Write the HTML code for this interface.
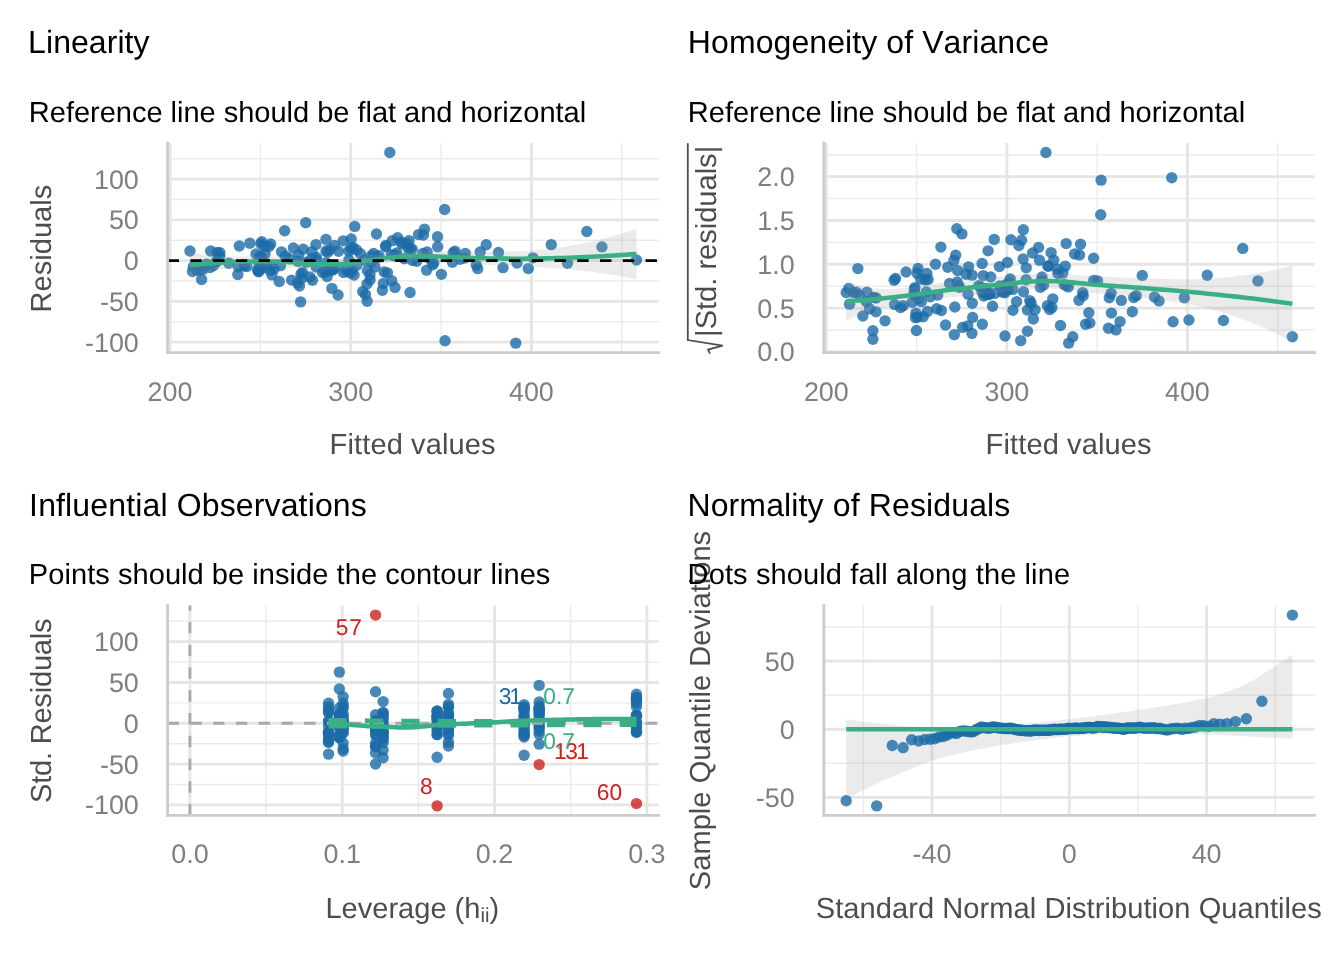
<!DOCTYPE html>
<html lang="en"><head><meta charset="utf-8"><title>Model check</title>
<style>html,body{margin:0;padding:0;background:#fff}svg{display:block;will-change:transform}</style></head>
<body>
<svg width="1344" height="960" viewBox="0 0 1344 960" font-family="'Liberation Sans', Arial, Helvetica, sans-serif" style="font-kerning:none" text-rendering="geometricPrecision">
<rect width="1344" height="960" fill="#ffffff"/>
<g fill="none"><path d="M167.60 321.78H658.80" stroke="#ebebeb" stroke-width="1.42"/><path d="M167.60 281.01H658.80" stroke="#ebebeb" stroke-width="1.42"/><path d="M167.60 240.23H658.80" stroke="#ebebeb" stroke-width="1.42"/><path d="M167.60 199.46H658.80" stroke="#ebebeb" stroke-width="1.42"/><path d="M167.60 158.68H658.80" stroke="#ebebeb" stroke-width="1.42"/><path d="M260.38 143.00V352.66" stroke="#ebebeb" stroke-width="1.42"/><path d="M441.06 143.00V352.66" stroke="#ebebeb" stroke-width="1.42"/><path d="M621.74 143.00V352.66" stroke="#ebebeb" stroke-width="1.42"/><path d="M167.60 342.17H658.80" stroke="#e5e5e5" stroke-width="2.84"/><path d="M167.60 301.39H658.80" stroke="#e5e5e5" stroke-width="2.84"/><path d="M167.60 260.62H658.80" stroke="#e5e5e5" stroke-width="2.84"/><path d="M167.60 219.85H658.80" stroke="#e5e5e5" stroke-width="2.84"/><path d="M167.60 179.07H658.80" stroke="#e5e5e5" stroke-width="2.84"/><path d="M170.04 143.00V352.66" stroke="#e5e5e5" stroke-width="2.84"/><path d="M350.72 143.00V352.66" stroke="#e5e5e5" stroke-width="2.84"/><path d="M531.40 143.00V352.66" stroke="#e5e5e5" stroke-width="2.84"/></g>
<g fill="#1b6ca8" fill-opacity="0.8"><circle cx="267.00" cy="263.97" r="5.69"/><circle cx="302.53" cy="272.55" r="5.69"/><circle cx="338.07" cy="295.03" r="5.69"/><circle cx="373.60" cy="253.46" r="5.69"/><circle cx="409.13" cy="240.62" r="5.69"/><circle cx="444.66" cy="209.49" r="5.69"/><circle cx="480.20" cy="252.02" r="5.69"/><circle cx="515.73" cy="343.13" r="5.69"/><circle cx="551.26" cy="244.64" r="5.69"/><circle cx="586.79" cy="231.51" r="5.69"/><circle cx="189.93" cy="251.06" r="5.69"/><circle cx="193.27" cy="266.81" r="5.69"/><circle cx="196.60" cy="270.18" r="5.69"/><circle cx="199.94" cy="270.28" r="5.69"/><circle cx="203.28" cy="269.33" r="5.69"/><circle cx="206.62" cy="264.11" r="5.69"/><circle cx="209.96" cy="267.52" r="5.69"/><circle cx="213.29" cy="265.69" r="5.69"/><circle cx="216.63" cy="261.84" r="5.69"/><circle cx="219.97" cy="252.73" r="5.69"/><circle cx="192.53" cy="271.54" r="5.69"/><circle cx="201.59" cy="279.48" r="5.69"/><circle cx="210.66" cy="250.97" r="5.69"/><circle cx="219.73" cy="256.26" r="5.69"/><circle cx="228.79" cy="263.24" r="5.69"/><circle cx="237.86" cy="274.55" r="5.69"/><circle cx="246.93" cy="266.44" r="5.69"/><circle cx="256.00" cy="253.95" r="5.69"/><circle cx="265.06" cy="253.75" r="5.69"/><circle cx="274.13" cy="268.85" r="5.69"/><circle cx="305.72" cy="222.74" r="5.69"/><circle cx="315.94" cy="244.59" r="5.69"/><circle cx="326.15" cy="262.70" r="5.69"/><circle cx="336.36" cy="266.26" r="5.69"/><circle cx="346.58" cy="270.33" r="5.69"/><circle cx="356.79" cy="265.33" r="5.69"/><circle cx="367.00" cy="284.08" r="5.69"/><circle cx="377.22" cy="257.69" r="5.69"/><circle cx="387.43" cy="272.83" r="5.69"/><circle cx="397.65" cy="237.72" r="5.69"/><circle cx="303.14" cy="249.25" r="5.69"/><circle cx="316.50" cy="257.41" r="5.69"/><circle cx="329.87" cy="249.72" r="5.69"/><circle cx="343.23" cy="240.84" r="5.69"/><circle cx="356.60" cy="250.00" r="5.69"/><circle cx="369.97" cy="274.76" r="5.69"/><circle cx="383.33" cy="283.43" r="5.69"/><circle cx="396.70" cy="252.98" r="5.69"/><circle cx="410.06" cy="292.50" r="5.69"/><circle cx="423.43" cy="235.06" r="5.69"/><circle cx="279.25" cy="281.48" r="5.69"/><circle cx="297.67" cy="283.31" r="5.69"/><circle cx="316.09" cy="267.04" r="5.69"/><circle cx="334.51" cy="245.34" r="5.69"/><circle cx="352.93" cy="247.38" r="5.69"/><circle cx="371.35" cy="261.78" r="5.69"/><circle cx="389.77" cy="152.53" r="5.69"/><circle cx="408.19" cy="248.37" r="5.69"/><circle cx="426.61" cy="270.17" r="5.69"/><circle cx="445.03" cy="340.81" r="5.69"/><circle cx="293.35" cy="247.90" r="5.69"/><circle cx="311.85" cy="251.60" r="5.69"/><circle cx="330.36" cy="270.38" r="5.69"/><circle cx="348.87" cy="259.94" r="5.69"/><circle cx="367.38" cy="270.45" r="5.69"/><circle cx="385.89" cy="245.37" r="5.69"/><circle cx="404.39" cy="258.73" r="5.69"/><circle cx="422.90" cy="253.37" r="5.69"/><circle cx="441.41" cy="274.35" r="5.69"/><circle cx="459.92" cy="259.31" r="5.69"/><circle cx="249.85" cy="243.25" r="5.69"/><circle cx="270.70" cy="243.91" r="5.69"/><circle cx="291.56" cy="280.10" r="5.69"/><circle cx="312.41" cy="280.29" r="5.69"/><circle cx="333.27" cy="269.85" r="5.69"/><circle cx="354.12" cy="275.05" r="5.69"/><circle cx="374.97" cy="267.06" r="5.69"/><circle cx="395.83" cy="255.27" r="5.69"/><circle cx="416.68" cy="261.24" r="5.69"/><circle cx="437.53" cy="236.77" r="5.69"/><circle cx="262.32" cy="268.34" r="5.69"/><circle cx="261.80" cy="241.73" r="5.69"/><circle cx="261.29" cy="257.37" r="5.69"/><circle cx="260.77" cy="243.83" r="5.69"/><circle cx="260.26" cy="259.38" r="5.69"/><circle cx="259.74" cy="256.55" r="5.69"/><circle cx="259.23" cy="263.81" r="5.69"/><circle cx="258.71" cy="271.85" r="5.69"/><circle cx="258.20" cy="271.25" r="5.69"/><circle cx="257.68" cy="269.80" r="5.69"/><circle cx="325.96" cy="239.36" r="5.69"/><circle cx="360.46" cy="253.76" r="5.69"/><circle cx="394.96" cy="287.43" r="5.69"/><circle cx="429.46" cy="258.55" r="5.69"/><circle cx="463.96" cy="258.13" r="5.69"/><circle cx="498.47" cy="252.41" r="5.69"/><circle cx="532.97" cy="257.85" r="5.69"/><circle cx="567.47" cy="263.29" r="5.69"/><circle cx="601.97" cy="246.92" r="5.69"/><circle cx="636.47" cy="260.00" r="5.69"/><circle cx="217.37" cy="252.54" r="5.69"/><circle cx="238.40" cy="266.75" r="5.69"/><circle cx="259.43" cy="269.22" r="5.69"/><circle cx="280.47" cy="265.67" r="5.69"/><circle cx="301.50" cy="278.60" r="5.69"/><circle cx="322.53" cy="272.55" r="5.69"/><circle cx="343.56" cy="272.42" r="5.69"/><circle cx="364.60" cy="260.28" r="5.69"/><circle cx="385.63" cy="246.79" r="5.69"/><circle cx="406.66" cy="243.75" r="5.69"/><circle cx="239.30" cy="245.97" r="5.69"/><circle cx="270.17" cy="270.38" r="5.69"/><circle cx="301.03" cy="273.91" r="5.69"/><circle cx="331.89" cy="288.39" r="5.69"/><circle cx="362.75" cy="291.40" r="5.69"/><circle cx="393.62" cy="255.74" r="5.69"/><circle cx="424.48" cy="229.13" r="5.69"/><circle cx="455.34" cy="256.53" r="5.69"/><circle cx="486.21" cy="244.72" r="5.69"/><circle cx="517.07" cy="263.08" r="5.69"/><circle cx="271.19" cy="265.07" r="5.69"/><circle cx="284.65" cy="230.75" r="5.69"/><circle cx="298.12" cy="261.43" r="5.69"/><circle cx="311.58" cy="258.79" r="5.69"/><circle cx="325.05" cy="272.01" r="5.69"/><circle cx="338.51" cy="251.33" r="5.69"/><circle cx="351.98" cy="271.18" r="5.69"/><circle cx="365.44" cy="294.50" r="5.69"/><circle cx="378.90" cy="255.77" r="5.69"/><circle cx="392.37" cy="240.63" r="5.69"/><circle cx="300.61" cy="301.88" r="5.69"/><circle cx="325.92" cy="250.90" r="5.69"/><circle cx="351.22" cy="238.93" r="5.69"/><circle cx="376.52" cy="234.05" r="5.69"/><circle cx="401.82" cy="243.94" r="5.69"/><circle cx="427.12" cy="252.02" r="5.69"/><circle cx="452.42" cy="262.14" r="5.69"/><circle cx="477.72" cy="268.66" r="5.69"/><circle cx="503.02" cy="267.68" r="5.69"/><circle cx="528.32" cy="268.58" r="5.69"/><circle cx="268.84" cy="246.56" r="5.69"/><circle cx="289.33" cy="258.65" r="5.69"/><circle cx="309.81" cy="277.03" r="5.69"/><circle cx="330.30" cy="269.63" r="5.69"/><circle cx="350.79" cy="248.56" r="5.69"/><circle cx="371.28" cy="255.86" r="5.69"/><circle cx="391.77" cy="280.66" r="5.69"/><circle cx="412.25" cy="249.15" r="5.69"/><circle cx="432.74" cy="264.79" r="5.69"/><circle cx="453.23" cy="252.65" r="5.69"/><circle cx="216.64" cy="261.05" r="5.69"/><circle cx="244.27" cy="265.97" r="5.69"/><circle cx="271.89" cy="274.87" r="5.69"/><circle cx="299.52" cy="286.05" r="5.69"/><circle cx="327.14" cy="276.45" r="5.69"/><circle cx="354.77" cy="226.41" r="5.69"/><circle cx="382.39" cy="290.29" r="5.69"/><circle cx="410.02" cy="248.58" r="5.69"/><circle cx="437.64" cy="246.71" r="5.69"/><circle cx="465.27" cy="253.42" r="5.69"/><circle cx="264.38" cy="246.21" r="5.69"/><circle cx="281.50" cy="251.85" r="5.69"/><circle cx="298.63" cy="255.13" r="5.69"/><circle cx="315.76" cy="259.69" r="5.69"/><circle cx="332.88" cy="269.56" r="5.69"/><circle cx="350.01" cy="272.93" r="5.69"/><circle cx="367.14" cy="301.25" r="5.69"/><circle cx="384.26" cy="271.98" r="5.69"/><circle cx="401.39" cy="242.08" r="5.69"/><circle cx="418.52" cy="234.57" r="5.69"/><circle cx="285.17" cy="255.98" r="5.69"/><circle cx="306.40" cy="262.25" r="5.69"/><circle cx="327.63" cy="252.16" r="5.69"/><circle cx="348.86" cy="251.11" r="5.69"/><circle cx="370.10" cy="279.83" r="5.69"/><circle cx="391.33" cy="254.80" r="5.69"/><circle cx="412.56" cy="260.41" r="5.69"/><circle cx="433.79" cy="262.87" r="5.69"/><circle cx="455.03" cy="251.31" r="5.69"/><circle cx="476.26" cy="264.99" r="5.69"/></g>
<polygon points="189.93,252.47 195.58,253.37 201.23,254.17 206.88,254.86 212.54,255.43 218.19,255.88 223.84,256.20 229.49,256.39 235.15,256.47 240.80,256.45 246.45,256.38 252.10,256.28 257.76,256.22 263.41,256.22 269.06,256.27 274.71,256.34 280.37,256.42 286.02,256.72 291.67,257.22 297.32,257.74 302.98,258.15 308.63,258.40 314.28,258.53 319.93,258.67 325.59,258.94 331.24,259.14 336.89,259.13 342.54,258.89 348.20,258.48 353.85,257.81 359.50,256.87 365.15,255.80 370.81,254.88 376.46,254.29 382.11,253.68 387.76,253.02 393.42,252.34 399.07,251.77 404.72,251.43 410.37,251.24 416.03,251.10 421.68,251.02 427.33,250.97 432.98,250.96 438.64,251.00 444.29,251.11 449.94,251.30 455.59,251.48 461.25,251.63 466.90,251.74 472.55,251.83 478.20,251.88 483.86,251.91 489.51,251.90 495.16,251.86 500.81,251.78 506.47,251.66 512.12,251.49 517.77,251.26 523.42,250.98 529.08,250.63 534.73,250.21 540.38,249.72 546.03,249.15 551.69,248.50 557.34,247.77 562.99,246.96 568.64,246.06 574.30,245.08 579.95,244.01 585.60,242.87 591.25,241.64 596.91,240.33 602.56,238.93 608.21,237.46 613.86,235.92 619.52,234.29 625.17,232.59 630.82,230.81 636.47,228.96 636.47,278.96 630.82,277.92 625.17,276.93 619.52,275.98 613.86,275.07 608.21,274.21 602.56,273.39 596.91,272.61 591.25,271.87 585.60,271.18 579.95,270.53 574.30,269.93 568.64,269.37 562.99,268.86 557.34,268.39 551.69,267.96 546.03,267.57 540.38,267.21 534.73,266.89 529.08,266.60 523.42,266.34 517.77,266.09 512.12,265.85 506.47,265.63 500.81,265.40 495.16,265.16 489.51,264.92 483.86,264.65 478.20,264.37 472.55,264.07 466.90,263.74 461.25,263.39 455.59,263.02 449.94,262.63 444.29,262.24 438.64,261.89 432.98,261.60 427.33,261.39 421.68,261.27 416.03,261.26 410.37,261.35 404.72,261.53 399.07,261.82 393.42,262.29 387.76,262.93 382.11,263.69 376.46,264.45 370.81,265.08 365.15,265.83 359.50,266.80 353.85,267.89 348.20,268.84 342.54,269.32 336.89,269.43 331.24,269.40 325.59,269.38 319.93,269.37 314.28,269.27 308.63,268.88 302.98,268.30 297.32,267.73 291.67,267.29 286.02,267.00 280.37,266.84 274.71,266.75 269.06,266.65 263.41,266.58 257.76,266.56 252.10,266.60 246.45,266.72 240.80,266.96 235.15,267.35 229.49,267.92 223.84,268.70 218.19,269.71 212.54,270.93 206.88,272.38 201.23,274.03 195.58,275.89 189.93,277.94" fill="#999999" fill-opacity="0.2"/>
<polyline points="189.93,265.20 195.58,264.63 201.23,264.10 206.88,263.62 212.54,263.18 218.19,262.79 223.84,262.45 229.49,262.16 235.15,261.91 240.80,261.71 246.45,261.55 252.10,261.44 257.76,261.39 263.41,261.40 269.06,261.46 274.71,261.54 280.37,261.63 286.02,261.86 291.67,262.25 297.32,262.73 302.98,263.22 308.63,263.64 314.28,263.90 319.93,264.02 325.59,264.16 331.24,264.27 336.89,264.28 342.54,264.11 348.20,263.66 353.85,262.85 359.50,261.83 365.15,260.81 370.81,259.98 376.46,259.37 382.11,258.68 387.76,257.97 393.42,257.31 399.07,256.79 404.72,256.48 410.37,256.29 416.03,256.18 421.68,256.14 427.33,256.18 432.98,256.28 438.64,256.45 444.29,256.68 449.94,256.96 455.59,257.25 461.25,257.51 466.90,257.74 472.55,257.95 478.20,258.13 483.86,258.28 489.51,258.41 495.16,258.51 500.81,258.59 506.47,258.64 512.12,258.67 517.77,258.68 523.42,258.66 529.08,258.62 534.73,258.55 540.38,258.47 546.03,258.36 551.69,258.23 557.34,258.08 562.99,257.91 568.64,257.72 574.30,257.51 579.95,257.27 585.60,257.02 591.25,256.75 596.91,256.47 602.56,256.16 608.21,255.84 613.86,255.49 619.52,255.14 625.17,254.76 630.82,254.37 636.47,253.96" fill="none" stroke="#3aaf85" stroke-width="4.55" stroke-linejoin="round" stroke-linecap="butt"/>
<path d="M167.60 260.62H658.80" stroke="#000" stroke-width="2.84" stroke-dasharray="11.38 11.38" fill="none"/>
<path d="M167.60 143.00V352.66" stroke="#cccccc" stroke-width="2.84" stroke-linecap="square" fill="none"/>
<path d="M167.60 352.66H658.80" stroke="#cccccc" stroke-width="2.84" stroke-linecap="square" fill="none"/>
<text x="138.80" y="351.72" font-size="26.9" fill="#7f7f7f" text-anchor="end">-100</text>
<text x="138.80" y="310.94" font-size="26.9" fill="#7f7f7f" text-anchor="end">-50</text>
<text x="138.80" y="270.17" font-size="26.9" fill="#7f7f7f" text-anchor="end">0</text>
<text x="138.80" y="229.40" font-size="26.9" fill="#7f7f7f" text-anchor="end">50</text>
<text x="138.80" y="188.62" font-size="26.9" fill="#7f7f7f" text-anchor="end">100</text>
<text x="170.04" y="400.55" font-size="26.9" fill="#7f7f7f" text-anchor="middle">200</text>
<text x="350.72" y="400.55" font-size="26.9" fill="#7f7f7f" text-anchor="middle">300</text>
<text x="531.40" y="400.55" font-size="26.9" fill="#7f7f7f" text-anchor="middle">400</text>
<text x="329.62" y="454.35" font-size="29.05" fill="#4d4d4d" textLength="166.03" lengthAdjust="spacing">Fitted values</text>
<text x="50.55" y="312.38" font-size="29.05" fill="#4d4d4d" textLength="127.63" lengthAdjust="spacing" transform="rotate(-90 50.55 312.38)">Residuals</text>
<text x="28.12" y="53.00" font-size="32" fill="#000" textLength="121.44" lengthAdjust="spacing">Linearity</text>
<text x="28.87" y="121.75" font-size="29.05" fill="#000" textLength="557.28" lengthAdjust="spacing">Reference line should be flat and horizontal</text>
<g fill="none"><path d="M823.90 329.96H1314.70" stroke="#ebebeb" stroke-width="1.42"/><path d="M823.90 286.17H1314.70" stroke="#ebebeb" stroke-width="1.42"/><path d="M823.90 242.38H1314.70" stroke="#ebebeb" stroke-width="1.42"/><path d="M823.90 198.58H1314.70" stroke="#ebebeb" stroke-width="1.42"/><path d="M823.90 154.79H1314.70" stroke="#ebebeb" stroke-width="1.42"/><path d="M916.60 143.00V352.66" stroke="#ebebeb" stroke-width="1.42"/><path d="M1097.14 143.00V352.66" stroke="#ebebeb" stroke-width="1.42"/><path d="M1277.67 143.00V352.66" stroke="#ebebeb" stroke-width="1.42"/><path d="M823.90 351.86H1314.70" stroke="#e5e5e5" stroke-width="2.84"/><path d="M823.90 308.07H1314.70" stroke="#e5e5e5" stroke-width="2.84"/><path d="M823.90 264.27H1314.70" stroke="#e5e5e5" stroke-width="2.84"/><path d="M823.90 220.48H1314.70" stroke="#e5e5e5" stroke-width="2.84"/><path d="M823.90 176.69H1314.70" stroke="#e5e5e5" stroke-width="2.84"/><path d="M826.34 143.00V352.66" stroke="#e5e5e5" stroke-width="2.84"/><path d="M1006.87 143.00V352.66" stroke="#e5e5e5" stroke-width="2.84"/><path d="M1187.40 143.00V352.66" stroke="#e5e5e5" stroke-width="2.84"/></g>
<g fill="#1b6ca8" fill-opacity="0.8"><circle cx="923.22" cy="316.79" r="5.69"/><circle cx="958.72" cy="285.65" r="5.69"/><circle cx="994.23" cy="239.39" r="5.69"/><circle cx="1029.73" cy="300.57" r="5.69"/><circle cx="1065.23" cy="266.12" r="5.69"/><circle cx="1100.74" cy="214.77" r="5.69"/><circle cx="1136.24" cy="295.64" r="5.69"/><circle cx="1171.75" cy="177.71" r="5.69"/><circle cx="1207.25" cy="275.23" r="5.69"/><circle cx="1242.75" cy="248.42" r="5.69"/><circle cx="846.21" cy="292.57" r="5.69"/><circle cx="849.54" cy="304.17" r="5.69"/><circle cx="852.88" cy="292.58" r="5.69"/><circle cx="856.22" cy="292.28" r="5.69"/><circle cx="859.55" cy="295.28" r="5.69"/><circle cx="862.89" cy="316.03" r="5.69"/><circle cx="866.22" cy="301.50" r="5.69"/><circle cx="869.56" cy="308.71" r="5.69"/><circle cx="872.89" cy="330.72" r="5.69"/><circle cx="876.23" cy="297.99" r="5.69"/><circle cx="848.81" cy="288.50" r="5.69"/><circle cx="857.87" cy="268.59" r="5.69"/><circle cx="866.93" cy="292.29" r="5.69"/><circle cx="875.99" cy="311.85" r="5.69"/><circle cx="885.04" cy="320.84" r="5.69"/><circle cx="894.10" cy="280.31" r="5.69"/><circle cx="903.16" cy="305.61" r="5.69"/><circle cx="912.22" cy="302.35" r="5.69"/><circle cx="921.28" cy="301.62" r="5.69"/><circle cx="930.34" cy="296.85" r="5.69"/><circle cx="961.91" cy="233.86" r="5.69"/><circle cx="972.12" cy="275.11" r="5.69"/><circle cx="982.32" cy="324.24" r="5.69"/><circle cx="992.53" cy="306.31" r="5.69"/><circle cx="1002.73" cy="292.11" r="5.69"/><circle cx="1012.94" cy="310.25" r="5.69"/><circle cx="1023.14" cy="258.99" r="5.69"/><circle cx="1033.35" cy="319.03" r="5.69"/><circle cx="1043.55" cy="284.87" r="5.69"/><circle cx="1053.76" cy="260.12" r="5.69"/><circle cx="959.33" cy="287.21" r="5.69"/><circle cx="972.68" cy="317.51" r="5.69"/><circle cx="986.04" cy="288.58" r="5.69"/><circle cx="999.39" cy="266.59" r="5.69"/><circle cx="1012.75" cy="289.38" r="5.69"/><circle cx="1026.10" cy="279.78" r="5.69"/><circle cx="1039.46" cy="260.29" r="5.69"/><circle cx="1052.81" cy="298.86" r="5.69"/><circle cx="1066.16" cy="243.60" r="5.69"/><circle cx="1079.52" cy="254.94" r="5.69"/><circle cx="935.46" cy="264.29" r="5.69"/><circle cx="953.87" cy="260.53" r="5.69"/><circle cx="972.27" cy="303.28" r="5.69"/><circle cx="990.68" cy="276.91" r="5.69"/><circle cx="1009.08" cy="282.09" r="5.69"/><circle cx="1027.49" cy="331.21" r="5.69"/><circle cx="1045.89" cy="152.53" r="5.69"/><circle cx="1064.30" cy="284.76" r="5.69"/><circle cx="1082.70" cy="292.63" r="5.69"/><circle cx="1101.11" cy="180.17" r="5.69"/><circle cx="949.54" cy="283.48" r="5.69"/><circle cx="968.04" cy="294.27" r="5.69"/><circle cx="986.53" cy="291.98" r="5.69"/><circle cx="1005.02" cy="336.06" r="5.69"/><circle cx="1023.52" cy="291.76" r="5.69"/><circle cx="1042.01" cy="276.98" r="5.69"/><circle cx="1060.50" cy="325.49" r="5.69"/><circle cx="1078.99" cy="300.24" r="5.69"/><circle cx="1097.49" cy="280.82" r="5.69"/><circle cx="1115.98" cy="329.93" r="5.69"/><circle cx="906.08" cy="271.95" r="5.69"/><circle cx="926.92" cy="273.49" r="5.69"/><circle cx="947.76" cy="267.23" r="5.69"/><circle cx="968.59" cy="266.82" r="5.69"/><circle cx="989.43" cy="293.62" r="5.69"/><circle cx="1010.27" cy="279.04" r="5.69"/><circle cx="1031.10" cy="303.20" r="5.69"/><circle cx="1051.94" cy="307.52" r="5.69"/><circle cx="1072.78" cy="336.76" r="5.69"/><circle cx="1093.61" cy="258.22" r="5.69"/><circle cx="918.54" cy="298.60" r="5.69"/><circle cx="918.02" cy="268.54" r="5.69"/><circle cx="917.51" cy="317.28" r="5.69"/><circle cx="917.00" cy="273.31" r="5.69"/><circle cx="916.48" cy="330.51" r="5.69"/><circle cx="915.97" cy="313.19" r="5.69"/><circle cx="915.45" cy="317.63" r="5.69"/><circle cx="914.94" cy="287.62" r="5.69"/><circle cx="914.42" cy="289.34" r="5.69"/><circle cx="913.91" cy="293.76" r="5.69"/><circle cx="982.13" cy="263.46" r="5.69"/><circle cx="1016.60" cy="301.64" r="5.69"/><circle cx="1051.08" cy="252.59" r="5.69"/><circle cx="1085.55" cy="324.27" r="5.69"/><circle cx="1120.02" cy="321.60" r="5.69"/><circle cx="1154.50" cy="296.93" r="5.69"/><circle cx="1188.97" cy="319.98" r="5.69"/><circle cx="1223.44" cy="320.54" r="5.69"/><circle cx="1257.92" cy="280.89" r="5.69"/><circle cx="1292.39" cy="336.76" r="5.69"/><circle cx="873.63" cy="297.36" r="5.69"/><circle cx="894.64" cy="304.38" r="5.69"/><circle cx="915.66" cy="295.62" r="5.69"/><circle cx="936.67" cy="308.77" r="5.69"/><circle cx="957.69" cy="270.56" r="5.69"/><circle cx="978.70" cy="285.65" r="5.69"/><circle cx="999.72" cy="285.99" r="5.69"/><circle cx="1020.73" cy="340.61" r="5.69"/><circle cx="1041.75" cy="280.56" r="5.69"/><circle cx="1062.77" cy="273.12" r="5.69"/><circle cx="895.55" cy="278.48" r="5.69"/><circle cx="926.38" cy="291.98" r="5.69"/><circle cx="957.22" cy="281.97" r="5.69"/><circle cx="988.06" cy="250.83" r="5.69"/><circle cx="1018.90" cy="245.49" r="5.69"/><circle cx="1049.73" cy="309.51" r="5.69"/><circle cx="1080.57" cy="244.26" r="5.69"/><circle cx="1111.41" cy="313.10" r="5.69"/><circle cx="1142.25" cy="275.40" r="5.69"/><circle cx="1173.08" cy="321.79" r="5.69"/><circle cx="927.41" cy="311.42" r="5.69"/><circle cx="940.86" cy="247.08" r="5.69"/><circle cx="954.31" cy="334.61" r="5.69"/><circle cx="967.77" cy="325.89" r="5.69"/><circle cx="981.22" cy="287.16" r="5.69"/><circle cx="994.67" cy="293.43" r="5.69"/><circle cx="1008.13" cy="289.56" r="5.69"/><circle cx="1021.58" cy="240.26" r="5.69"/><circle cx="1035.03" cy="309.65" r="5.69"/><circle cx="1048.48" cy="266.14" r="5.69"/><circle cx="956.81" cy="228.71" r="5.69"/><circle cx="982.09" cy="292.08" r="5.69"/><circle cx="1007.37" cy="262.56" r="5.69"/><circle cx="1032.65" cy="253.04" r="5.69"/><circle cx="1057.93" cy="273.55" r="5.69"/><circle cx="1083.21" cy="295.64" r="5.69"/><circle cx="1108.49" cy="328.24" r="5.69"/><circle cx="1133.77" cy="297.50" r="5.69"/><circle cx="1159.05" cy="300.93" r="5.69"/><circle cx="1184.33" cy="297.78" r="5.69"/><circle cx="925.05" cy="279.97" r="5.69"/><circle cx="945.53" cy="324.95" r="5.69"/><circle cx="966.00" cy="274.20" r="5.69"/><circle cx="986.47" cy="294.33" r="5.69"/><circle cx="1006.94" cy="285.29" r="5.69"/><circle cx="1027.41" cy="310.04" r="5.69"/><circle cx="1047.88" cy="266.02" r="5.69"/><circle cx="1068.36" cy="286.93" r="5.69"/><circle cx="1088.83" cy="312.69" r="5.69"/><circle cx="1109.30" cy="297.73" r="5.69"/><circle cx="872.90" cy="339.28" r="5.69"/><circle cx="900.50" cy="307.52" r="5.69"/><circle cx="928.11" cy="279.49" r="5.69"/><circle cx="955.71" cy="255.17" r="5.69"/><circle cx="983.31" cy="275.57" r="5.69"/><circle cx="1010.92" cy="239.72" r="5.69"/><circle cx="1038.52" cy="247.43" r="5.69"/><circle cx="1066.12" cy="285.33" r="5.69"/><circle cx="1093.72" cy="280.36" r="5.69"/><circle cx="1121.33" cy="300.42" r="5.69"/><circle cx="920.60" cy="279.08" r="5.69"/><circle cx="937.71" cy="295.09" r="5.69"/><circle cx="954.82" cy="306.95" r="5.69"/><circle cx="971.94" cy="333.37" r="5.69"/><circle cx="989.05" cy="294.55" r="5.69"/><circle cx="1006.16" cy="284.59" r="5.69"/><circle cx="1023.28" cy="229.65" r="5.69"/><circle cx="1040.39" cy="287.23" r="5.69"/><circle cx="1057.50" cy="269.31" r="5.69"/><circle cx="1074.61" cy="254.00" r="5.69"/><circle cx="941.37" cy="310.55" r="5.69"/><circle cx="962.59" cy="327.39" r="5.69"/><circle cx="983.80" cy="296.09" r="5.69"/><circle cx="1005.02" cy="292.74" r="5.69"/><circle cx="1026.23" cy="267.84" r="5.69"/><circle cx="1047.45" cy="305.62" r="5.69"/><circle cx="1068.66" cy="343.13" r="5.69"/><circle cx="1089.88" cy="323.10" r="5.69"/><circle cx="1111.09" cy="293.37" r="5.69"/><circle cx="1132.31" cy="311.78" r="5.69"/></g>
<polygon points="846.21,281.85 851.86,283.74 857.50,285.37 863.15,286.73 868.80,287.81 874.45,288.59 880.10,289.07 885.74,289.25 891.39,289.16 897.04,288.82 902.69,288.29 908.34,287.63 913.98,286.87 919.63,286.03 925.28,285.17 930.93,284.30 936.58,283.49 942.22,282.85 947.87,282.32 953.52,281.73 959.17,280.98 964.81,280.13 970.46,279.33 976.11,278.76 981.76,278.40 987.41,277.99 993.05,277.44 998.70,276.83 1004.35,276.36 1010.00,275.91 1015.65,275.33 1021.29,274.62 1026.94,274.03 1032.59,273.80 1038.24,273.67 1043.88,273.56 1049.53,273.46 1055.18,273.46 1060.83,273.73 1066.48,274.15 1072.12,274.63 1077.77,275.11 1083.42,275.55 1089.07,275.94 1094.72,276.29 1100.36,276.58 1106.01,276.82 1111.66,277.04 1117.31,277.26 1122.95,277.47 1128.60,277.68 1134.25,277.90 1139.90,278.12 1145.55,278.34 1151.19,278.55 1156.84,278.75 1162.49,278.94 1168.14,279.09 1173.79,279.22 1179.43,279.30 1185.08,279.32 1190.73,279.29 1196.38,279.19 1202.02,279.03 1207.67,278.78 1213.32,278.46 1218.97,278.05 1224.62,277.56 1230.26,276.99 1235.91,276.34 1241.56,275.60 1247.21,274.79 1252.86,273.90 1258.50,272.93 1264.15,271.88 1269.80,270.76 1275.45,269.56 1281.10,268.30 1286.74,266.96 1292.39,265.56 1292.39,342.01 1286.74,339.00 1281.10,336.11 1275.45,333.32 1269.80,330.64 1264.15,328.07 1258.50,325.61 1252.86,323.26 1247.21,321.03 1241.56,318.90 1235.91,316.89 1230.26,315.00 1224.62,313.21 1218.97,311.54 1213.32,309.98 1207.67,308.53 1202.02,307.19 1196.38,305.95 1190.73,304.80 1185.08,303.75 1179.43,302.78 1173.79,301.89 1168.14,301.07 1162.49,300.30 1156.84,299.57 1151.19,298.89 1145.55,298.24 1139.90,297.61 1134.25,297.00 1128.60,296.40 1122.95,295.82 1117.31,295.25 1111.66,294.70 1106.01,294.16 1100.36,293.61 1094.72,292.94 1089.07,292.22 1083.42,291.48 1077.77,290.78 1072.12,290.16 1066.48,289.62 1060.83,289.18 1055.18,288.83 1049.53,288.66 1043.88,288.71 1038.24,288.97 1032.59,289.33 1026.94,289.62 1021.29,289.95 1015.65,290.52 1010.00,291.34 1004.35,292.21 998.70,292.78 993.05,293.19 987.41,293.68 981.76,294.36 976.11,295.13 970.46,295.75 964.81,296.15 959.17,296.51 953.52,297.02 947.87,297.72 942.22,298.58 936.58,299.42 930.93,300.21 925.28,301.04 919.63,301.88 913.98,302.68 908.34,303.40 902.69,304.12 897.04,304.90 891.39,305.81 885.74,306.89 880.10,308.19 874.45,309.73 868.80,311.51 863.15,313.51 857.50,315.74 851.86,318.18 846.21,320.81" fill="#999999" fill-opacity="0.2"/>
<polyline points="846.21,301.33 851.86,300.96 857.50,300.55 863.15,300.12 868.80,299.66 874.45,299.16 880.10,298.63 885.74,298.07 891.39,297.48 897.04,296.86 902.69,296.21 908.34,295.52 913.98,294.77 919.63,293.96 925.28,293.10 930.93,292.26 936.58,291.45 942.22,290.71 947.87,290.02 953.52,289.37 959.17,288.75 964.81,288.14 970.46,287.54 976.11,286.94 981.76,286.38 987.41,285.83 993.05,285.31 998.70,284.81 1004.35,284.28 1010.00,283.63 1015.65,282.92 1021.29,282.28 1026.94,281.82 1032.59,281.56 1038.24,281.32 1043.88,281.13 1049.53,281.06 1055.18,281.15 1060.83,281.45 1066.48,281.89 1072.12,282.39 1077.77,282.94 1083.42,283.52 1089.07,284.08 1094.72,284.61 1100.36,285.09 1106.01,285.49 1111.66,285.87 1117.31,286.25 1122.95,286.64 1128.60,287.04 1134.25,287.45 1139.90,287.86 1145.55,288.29 1151.19,288.72 1156.84,289.16 1162.49,289.62 1168.14,290.08 1173.79,290.55 1179.43,291.04 1185.08,291.54 1190.73,292.05 1196.38,292.57 1202.02,293.11 1207.67,293.65 1213.32,294.22 1218.97,294.79 1224.62,295.39 1230.26,295.99 1235.91,296.62 1241.56,297.25 1247.21,297.91 1252.86,298.58 1258.50,299.27 1264.15,299.97 1269.80,300.70 1275.45,301.44 1281.10,302.20 1286.74,302.98 1292.39,303.78" fill="none" stroke="#3aaf85" stroke-width="4.55" stroke-linejoin="round" stroke-linecap="butt"/>
<path d="M823.90 143.00V352.66" stroke="#cccccc" stroke-width="2.84" stroke-linecap="square" fill="none"/>
<path d="M823.90 352.66H1314.70" stroke="#cccccc" stroke-width="2.84" stroke-linecap="square" fill="none"/>
<text x="794.70" y="361.41" font-size="26.9" fill="#7f7f7f" text-anchor="end">0.0</text>
<text x="794.70" y="317.62" font-size="26.9" fill="#7f7f7f" text-anchor="end">0.5</text>
<text x="794.70" y="273.82" font-size="26.9" fill="#7f7f7f" text-anchor="end">1.0</text>
<text x="794.70" y="230.03" font-size="26.9" fill="#7f7f7f" text-anchor="end">1.5</text>
<text x="794.70" y="186.24" font-size="26.9" fill="#7f7f7f" text-anchor="end">2.0</text>
<text x="826.34" y="400.55" font-size="26.9" fill="#7f7f7f" text-anchor="middle">200</text>
<text x="1006.87" y="400.55" font-size="26.9" fill="#7f7f7f" text-anchor="middle">300</text>
<text x="1187.40" y="400.55" font-size="26.9" fill="#7f7f7f" text-anchor="middle">400</text>
<text x="985.62" y="454.35" font-size="29.05" fill="#4d4d4d" textLength="166.03" lengthAdjust="spacing">Fitted values</text>
<text x="716.50" y="336.90" font-size="29.05" fill="#4d4d4d" text-anchor="start" transform="rotate(-90 716.50 336.90)">|Std. residuals|</text>
<polyline points="709.95,353.75 708.1,349.6 722.7,345.7 687.8,340.1 687.8,143.2" fill="none" stroke="#4d4d4d" stroke-width="1.8" stroke-linejoin="miter"/>
<text x="687.83" y="53.00" font-size="32" fill="#000" textLength="361.20" lengthAdjust="spacing">Homogeneity of Variance</text>
<text x="687.82" y="121.75" font-size="29.05" fill="#000" textLength="557.28" lengthAdjust="spacing">Reference line should be flat and horizontal</text>
<g fill="none"><path d="M167.60 784.52H658.80" stroke="#ebebeb" stroke-width="1.42"/><path d="M167.60 743.70H658.80" stroke="#ebebeb" stroke-width="1.42"/><path d="M167.60 702.88H658.80" stroke="#ebebeb" stroke-width="1.42"/><path d="M167.60 662.07H658.80" stroke="#ebebeb" stroke-width="1.42"/><path d="M167.60 621.25H658.80" stroke="#ebebeb" stroke-width="1.42"/><path d="M266.08 605.55V815.43" stroke="#ebebeb" stroke-width="1.42"/><path d="M418.40 605.55V815.43" stroke="#ebebeb" stroke-width="1.42"/><path d="M570.71 605.55V815.43" stroke="#ebebeb" stroke-width="1.42"/><path d="M167.60 804.93H658.80" stroke="#e5e5e5" stroke-width="2.84"/><path d="M167.60 764.11H658.80" stroke="#e5e5e5" stroke-width="2.84"/><path d="M167.60 723.29H658.80" stroke="#e5e5e5" stroke-width="2.84"/><path d="M167.60 682.48H658.80" stroke="#e5e5e5" stroke-width="2.84"/><path d="M167.60 641.66H658.80" stroke="#e5e5e5" stroke-width="2.84"/><path d="M189.93 605.55V815.43" stroke="#e5e5e5" stroke-width="2.84"/><path d="M342.24 605.55V815.43" stroke="#e5e5e5" stroke-width="2.84"/><path d="M494.55 605.55V815.43" stroke="#e5e5e5" stroke-width="2.84"/><path d="M646.86 605.55V815.43" stroke="#e5e5e5" stroke-width="2.84"/></g>
<g fill="#1b6ca8" fill-opacity="0.8"><circle cx="539.18" cy="726.64" r="5.69"/><circle cx="448.45" cy="735.23" r="5.69"/><circle cx="383.10" cy="757.74" r="5.69"/><circle cx="343.13" cy="716.13" r="5.69"/><circle cx="328.55" cy="703.27" r="5.69"/><circle cx="339.36" cy="672.11" r="5.69"/><circle cx="375.56" cy="714.69" r="5.69"/><circle cx="524.11" cy="707.30" r="5.69"/><circle cx="636.47" cy="694.16" r="5.69"/><circle cx="539.18" cy="713.72" r="5.69"/><circle cx="448.45" cy="729.49" r="5.69"/><circle cx="383.10" cy="732.86" r="5.69"/><circle cx="343.13" cy="732.96" r="5.69"/><circle cx="328.55" cy="732.01" r="5.69"/><circle cx="339.36" cy="726.79" r="5.69"/><circle cx="375.56" cy="730.20" r="5.69"/><circle cx="437.14" cy="728.36" r="5.69"/><circle cx="524.11" cy="724.51" r="5.69"/><circle cx="636.47" cy="715.39" r="5.69"/><circle cx="539.18" cy="734.22" r="5.69"/><circle cx="448.45" cy="742.18" r="5.69"/><circle cx="383.10" cy="713.63" r="5.69"/><circle cx="343.13" cy="718.93" r="5.69"/><circle cx="328.55" cy="725.91" r="5.69"/><circle cx="339.36" cy="737.24" r="5.69"/><circle cx="375.56" cy="729.12" r="5.69"/><circle cx="437.14" cy="716.62" r="5.69"/><circle cx="524.11" cy="716.42" r="5.69"/><circle cx="636.47" cy="731.53" r="5.69"/><circle cx="539.18" cy="685.38" r="5.69"/><circle cx="448.45" cy="707.25" r="5.69"/><circle cx="383.10" cy="725.37" r="5.69"/><circle cx="343.13" cy="728.94" r="5.69"/><circle cx="328.55" cy="733.02" r="5.69"/><circle cx="339.36" cy="728.01" r="5.69"/><circle cx="375.56" cy="746.78" r="5.69"/><circle cx="437.14" cy="720.36" r="5.69"/><circle cx="524.11" cy="735.51" r="5.69"/><circle cx="636.47" cy="700.37" r="5.69"/><circle cx="539.18" cy="711.91" r="5.69"/><circle cx="448.45" cy="720.08" r="5.69"/><circle cx="383.10" cy="712.39" r="5.69"/><circle cx="343.13" cy="703.49" r="5.69"/><circle cx="328.55" cy="712.66" r="5.69"/><circle cx="339.36" cy="737.44" r="5.69"/><circle cx="375.56" cy="746.13" r="5.69"/><circle cx="437.14" cy="715.64" r="5.69"/><circle cx="524.11" cy="755.21" r="5.69"/><circle cx="636.47" cy="697.71" r="5.69"/><circle cx="539.18" cy="744.18" r="5.69"/><circle cx="448.45" cy="746.01" r="5.69"/><circle cx="383.10" cy="729.72" r="5.69"/><circle cx="343.13" cy="708.00" r="5.69"/><circle cx="328.55" cy="710.04" r="5.69"/><circle cx="339.36" cy="724.45" r="5.69"/><circle cx="437.14" cy="711.03" r="5.69"/><circle cx="524.11" cy="732.85" r="5.69"/><circle cx="539.18" cy="710.56" r="5.69"/><circle cx="448.45" cy="714.26" r="5.69"/><circle cx="383.10" cy="733.06" r="5.69"/><circle cx="343.13" cy="722.61" r="5.69"/><circle cx="328.55" cy="733.13" r="5.69"/><circle cx="339.36" cy="708.03" r="5.69"/><circle cx="375.56" cy="721.40" r="5.69"/><circle cx="437.14" cy="716.04" r="5.69"/><circle cx="524.11" cy="737.04" r="5.69"/><circle cx="636.47" cy="721.98" r="5.69"/><circle cx="539.18" cy="705.90" r="5.69"/><circle cx="448.45" cy="706.57" r="5.69"/><circle cx="383.10" cy="742.80" r="5.69"/><circle cx="343.13" cy="742.99" r="5.69"/><circle cx="328.55" cy="732.53" r="5.69"/><circle cx="339.36" cy="737.74" r="5.69"/><circle cx="375.56" cy="729.74" r="5.69"/><circle cx="437.14" cy="717.94" r="5.69"/><circle cx="524.11" cy="723.91" r="5.69"/><circle cx="636.47" cy="699.42" r="5.69"/><circle cx="539.18" cy="731.02" r="5.69"/><circle cx="448.45" cy="704.39" r="5.69"/><circle cx="383.10" cy="720.04" r="5.69"/><circle cx="343.13" cy="706.49" r="5.69"/><circle cx="328.55" cy="722.05" r="5.69"/><circle cx="339.36" cy="719.22" r="5.69"/><circle cx="375.56" cy="726.49" r="5.69"/><circle cx="437.14" cy="734.53" r="5.69"/><circle cx="524.11" cy="733.94" r="5.69"/><circle cx="636.47" cy="732.49" r="5.69"/><circle cx="539.18" cy="702.01" r="5.69"/><circle cx="448.45" cy="716.42" r="5.69"/><circle cx="383.10" cy="750.13" r="5.69"/><circle cx="343.13" cy="721.22" r="5.69"/><circle cx="328.55" cy="720.80" r="5.69"/><circle cx="339.36" cy="715.08" r="5.69"/><circle cx="375.56" cy="720.52" r="5.69"/><circle cx="437.14" cy="725.96" r="5.69"/><circle cx="524.11" cy="709.58" r="5.69"/><circle cx="636.47" cy="722.67" r="5.69"/><circle cx="539.18" cy="715.20" r="5.69"/><circle cx="448.45" cy="729.43" r="5.69"/><circle cx="383.10" cy="731.91" r="5.69"/><circle cx="343.13" cy="728.35" r="5.69"/><circle cx="328.55" cy="741.29" r="5.69"/><circle cx="339.36" cy="735.23" r="5.69"/><circle cx="375.56" cy="735.11" r="5.69"/><circle cx="437.14" cy="722.95" r="5.69"/><circle cx="524.11" cy="709.45" r="5.69"/><circle cx="636.47" cy="706.41" r="5.69"/><circle cx="539.18" cy="708.63" r="5.69"/><circle cx="448.45" cy="733.06" r="5.69"/><circle cx="383.10" cy="736.59" r="5.69"/><circle cx="343.13" cy="751.09" r="5.69"/><circle cx="328.55" cy="754.11" r="5.69"/><circle cx="339.36" cy="718.41" r="5.69"/><circle cx="375.56" cy="691.77" r="5.69"/><circle cx="437.14" cy="719.20" r="5.69"/><circle cx="524.11" cy="707.37" r="5.69"/><circle cx="636.47" cy="725.76" r="5.69"/><circle cx="539.18" cy="727.75" r="5.69"/><circle cx="448.45" cy="693.40" r="5.69"/><circle cx="383.10" cy="724.10" r="5.69"/><circle cx="343.13" cy="721.46" r="5.69"/><circle cx="328.55" cy="734.69" r="5.69"/><circle cx="339.36" cy="713.99" r="5.69"/><circle cx="375.56" cy="733.86" r="5.69"/><circle cx="437.14" cy="757.21" r="5.69"/><circle cx="524.11" cy="718.44" r="5.69"/><circle cx="636.47" cy="703.28" r="5.69"/><circle cx="448.45" cy="713.56" r="5.69"/><circle cx="383.10" cy="701.58" r="5.69"/><circle cx="343.13" cy="696.70" r="5.69"/><circle cx="328.55" cy="706.59" r="5.69"/><circle cx="339.36" cy="714.69" r="5.69"/><circle cx="375.56" cy="724.81" r="5.69"/><circle cx="437.14" cy="731.34" r="5.69"/><circle cx="524.11" cy="730.36" r="5.69"/><circle cx="636.47" cy="731.26" r="5.69"/><circle cx="539.18" cy="709.22" r="5.69"/><circle cx="448.45" cy="721.32" r="5.69"/><circle cx="383.10" cy="739.72" r="5.69"/><circle cx="343.13" cy="732.31" r="5.69"/><circle cx="328.55" cy="711.23" r="5.69"/><circle cx="339.36" cy="718.53" r="5.69"/><circle cx="375.56" cy="743.36" r="5.69"/><circle cx="437.14" cy="711.81" r="5.69"/><circle cx="524.11" cy="727.47" r="5.69"/><circle cx="636.47" cy="715.31" r="5.69"/><circle cx="539.18" cy="723.72" r="5.69"/><circle cx="448.45" cy="728.65" r="5.69"/><circle cx="383.10" cy="737.56" r="5.69"/><circle cx="343.13" cy="748.75" r="5.69"/><circle cx="328.55" cy="739.14" r="5.69"/><circle cx="339.36" cy="689.05" r="5.69"/><circle cx="375.56" cy="752.99" r="5.69"/><circle cx="437.14" cy="711.24" r="5.69"/><circle cx="524.11" cy="709.37" r="5.69"/><circle cx="636.47" cy="716.09" r="5.69"/><circle cx="539.18" cy="708.87" r="5.69"/><circle cx="448.45" cy="714.52" r="5.69"/><circle cx="383.10" cy="717.80" r="5.69"/><circle cx="343.13" cy="722.36" r="5.69"/><circle cx="328.55" cy="732.24" r="5.69"/><circle cx="339.36" cy="735.62" r="5.69"/><circle cx="375.56" cy="763.96" r="5.69"/><circle cx="437.14" cy="734.67" r="5.69"/><circle cx="524.11" cy="704.73" r="5.69"/><circle cx="636.47" cy="697.22" r="5.69"/><circle cx="539.18" cy="718.65" r="5.69"/><circle cx="448.45" cy="724.92" r="5.69"/><circle cx="383.10" cy="714.82" r="5.69"/><circle cx="343.13" cy="713.78" r="5.69"/><circle cx="328.55" cy="742.52" r="5.69"/><circle cx="339.36" cy="717.47" r="5.69"/><circle cx="375.56" cy="723.09" r="5.69"/><circle cx="437.14" cy="725.55" r="5.69"/><circle cx="524.11" cy="713.98" r="5.69"/><circle cx="636.47" cy="727.67" r="5.69"/></g>
<g fill="#cd201f" fill-opacity="0.8"><circle cx="437.14" cy="805.89" r="5.69"/><circle cx="375.56" cy="615.09" r="5.69"/><circle cx="636.47" cy="803.57" r="5.69"/><circle cx="539.18" cy="764.59" r="5.69"/></g>
<path d="M189.93 815.43V605.55" stroke="#a9a9a9" stroke-width="2.84" stroke-dasharray="11.38 11.38" fill="none"/>
<path d="M167.60 723.29H658.80" stroke="#a9a9a9" stroke-width="2.84" stroke-dasharray="11.38 11.38" fill="none"/>
<polyline points="328.55,722.86 332.45,723.24 336.35,723.62 340.25,723.98 344.14,724.32 348.04,724.64 351.94,724.95 355.84,725.23 359.74,725.49 363.63,725.73 367.53,725.97 371.43,726.19 375.33,726.38 379.22,726.53 383.12,726.68 387.02,726.87 390.92,727.08 394.81,727.28 398.71,727.44 402.61,727.54 406.51,727.55 410.41,727.44 414.30,727.23 418.20,726.92 422.10,726.55 426.00,726.15 429.89,725.74 433.79,725.36 437.69,725.02 441.59,724.75 445.48,724.56 449.38,724.37 453.28,724.19 457.18,724.01 461.08,723.83 464.97,723.66 468.87,723.48 472.77,723.30 476.67,723.12 480.56,722.93 484.46,722.75 488.36,722.55 492.26,722.35 496.16,722.15 500.05,721.94 503.95,721.73 507.85,721.52 511.75,721.32 515.64,721.13 519.54,720.95 523.44,720.78 527.34,720.63 531.23,720.50 535.13,720.38 539.03,720.26 542.93,720.15 546.83,720.04 550.72,719.94 554.62,719.84 558.52,719.75 562.42,719.66 566.31,719.58 570.21,719.50 574.11,719.43 578.01,719.36 581.90,719.29 585.80,719.24 589.70,719.19 593.60,719.14 597.50,719.10 601.39,719.06 605.29,719.03 609.19,719.00 613.09,718.98 616.98,718.96 620.88,718.95 624.78,718.95 628.68,718.95 632.58,718.95 636.47,718.96" fill="none" stroke="#3aaf85" stroke-width="4.55" stroke-linejoin="round" stroke-linecap="butt"/>
<text x="335.79" y="635.00" font-size="22.76" fill="#cd201f" textLength="26.16" lengthAdjust="spacing">57</text>
<text x="419.91" y="793.80" font-size="22.76" fill="#cd201f" textLength="12.78" lengthAdjust="spacing">8</text>
<text x="596.84" y="800.40" font-size="22.76" fill="#cd201f" textLength="25.44" lengthAdjust="spacing">60</text>
<text x="554.07" y="758.60" font-size="22.76" fill="#cd201f" textLength="34.85" lengthAdjust="spacing">131</text>
<text x="498.63" y="703.70" font-size="22.76" fill="#1b6ca8" textLength="23.38" lengthAdjust="spacing">31</text>
<text x="543.21" y="704.30" font-size="22.76" fill="#3aaf85" textLength="31.68" lengthAdjust="spacing">0.7</text>
<text x="543.21" y="749.30" font-size="22.76" fill="#3aaf85" textLength="31.68" lengthAdjust="spacing">0.7</text>
<polyline points="328.55,720.24 331.66,720.28 334.77,720.31 337.88,720.35 340.99,720.38 344.10,720.42 347.22,720.45 350.33,720.48 353.44,720.51 356.55,720.54 359.66,720.57 362.77,720.59 365.88,720.62 368.99,720.65 372.10,720.67 375.21,720.70 378.32,720.72 381.43,720.75 384.54,720.77 387.65,720.79 390.76,720.81 393.87,720.84 396.98,720.86 400.09,720.88 403.20,720.90 406.31,720.92 409.42,720.94 412.53,720.96 415.64,720.98 418.75,721.00 421.86,721.01 424.97,721.03 428.08,721.05 431.19,721.07 434.30,721.08 437.41,721.10 440.52,721.12 443.63,721.13 446.74,721.15 449.86,721.16 452.97,721.18 456.08,721.19 459.19,721.21 462.30,721.22 465.41,721.24 468.52,721.25 471.63,721.27 474.74,721.28 477.85,721.29 480.96,721.31 484.07,721.32 487.18,721.33 490.29,721.34 493.40,721.36 496.51,721.37 499.62,721.38 502.73,721.39 505.84,721.41 508.95,721.42 512.06,721.43 515.17,721.44 518.28,721.45 521.39,721.46 524.50,721.47 527.61,721.48 530.72,721.49 533.83,721.50 536.94,721.52 540.05,721.53 543.16,721.54 546.27,721.55 549.38,721.56 552.49,721.57 555.61,721.57 558.72,721.58 561.83,721.59 564.94,721.60 568.05,721.61 571.16,721.62 574.27,721.63 577.38,721.64 580.49,721.65 583.60,721.66 586.71,721.67 589.82,721.67 592.93,721.68 596.04,721.69 599.15,721.70 602.26,721.71 605.37,721.72 608.48,721.72 611.59,721.73 614.70,721.74 617.81,721.75 620.92,721.76 624.03,721.76 627.14,721.77 630.25,721.78 633.36,721.79 636.47,721.79" fill="none" stroke="#3aaf85" stroke-width="4.55" stroke-linejoin="round" stroke-linecap="butt" stroke-dasharray="18.2 18.2"/>
<polyline points="328.55,726.35 331.66,726.31 334.77,726.27 337.88,726.24 340.99,726.20 344.10,726.17 347.22,726.14 350.33,726.11 353.44,726.08 356.55,726.05 359.66,726.02 362.77,725.99 365.88,725.97 368.99,725.94 372.10,725.91 375.21,725.89 378.32,725.86 381.43,725.84 384.54,725.82 387.65,725.79 390.76,725.77 393.87,725.75 396.98,725.73 400.09,725.71 403.20,725.69 406.31,725.67 409.42,725.65 412.53,725.63 415.64,725.61 418.75,725.59 421.86,725.57 424.97,725.55 428.08,725.54 431.19,725.52 434.30,725.50 437.41,725.49 440.52,725.47 443.63,725.45 446.74,725.44 449.86,725.42 452.97,725.41 456.08,725.39 459.19,725.38 462.30,725.36 465.41,725.35 468.52,725.33 471.63,725.32 474.74,725.31 477.85,725.29 480.96,725.28 484.07,725.27 487.18,725.25 490.29,725.24 493.40,725.23 496.51,725.22 499.62,725.21 502.73,725.19 505.84,725.18 508.95,725.17 512.06,725.16 515.17,725.15 518.28,725.14 521.39,725.12 524.50,725.11 527.61,725.10 530.72,725.09 533.83,725.08 536.94,725.07 540.05,725.06 543.16,725.05 546.27,725.04 549.38,725.03 552.49,725.02 555.61,725.01 558.72,725.00 561.83,724.99 564.94,724.98 568.05,724.97 571.16,724.97 574.27,724.96 577.38,724.95 580.49,724.94 583.60,724.93 586.71,724.92 589.82,724.91 592.93,724.90 596.04,724.90 599.15,724.89 602.26,724.88 605.37,724.87 608.48,724.86 611.59,724.85 614.70,724.85 617.81,724.84 620.92,724.83 624.03,724.82 627.14,724.82 630.25,724.81 633.36,724.80 636.47,724.79" fill="none" stroke="#3aaf85" stroke-width="4.55" stroke-linejoin="round" stroke-linecap="butt" stroke-dasharray="18.2 18.2"/>
<path d="M167.60 605.55V815.43" stroke="#cccccc" stroke-width="2.84" stroke-linecap="square" fill="none"/>
<path d="M167.60 815.43H658.80" stroke="#cccccc" stroke-width="2.84" stroke-linecap="square" fill="none"/>
<text x="138.80" y="814.48" font-size="26.9" fill="#7f7f7f" text-anchor="end">-100</text>
<text x="138.80" y="773.66" font-size="26.9" fill="#7f7f7f" text-anchor="end">-50</text>
<text x="138.80" y="732.84" font-size="26.9" fill="#7f7f7f" text-anchor="end">0</text>
<text x="138.80" y="692.03" font-size="26.9" fill="#7f7f7f" text-anchor="end">50</text>
<text x="138.80" y="651.21" font-size="26.9" fill="#7f7f7f" text-anchor="end">100</text>
<text x="189.93" y="862.80" font-size="26.9" fill="#7f7f7f" text-anchor="middle">0.0</text>
<text x="342.24" y="862.80" font-size="26.9" fill="#7f7f7f" text-anchor="middle">0.1</text>
<text x="494.55" y="862.80" font-size="26.9" fill="#7f7f7f" text-anchor="middle">0.2</text>
<text x="646.86" y="862.80" font-size="26.9" fill="#7f7f7f" text-anchor="middle">0.3</text>
<text x="325.42" y="917.7" font-size="29.05" fill="#4d4d4d">Leverage (h<tspan font-size="20.3" dy="4.7">ii</tspan><tspan dy="-4.7">)</tspan></text>
<text x="50.55" y="803.02" font-size="29.05" fill="#4d4d4d" textLength="184.57" lengthAdjust="spacing" transform="rotate(-90 50.55 803.02)">Std. Residuals</text>
<text x="29.10" y="515.70" font-size="32" fill="#000" textLength="337.66" lengthAdjust="spacing">Influential Observations</text>
<text x="28.87" y="584.00" font-size="29.05" fill="#000" textLength="521.48" lengthAdjust="spacing">Points should be inside the contour lines</text>
<text x="710.20" y="890.12" font-size="29.05" fill="#4d4d4d" textLength="359.27" lengthAdjust="spacing" transform="rotate(-90 710.20 890.12)">Sample Quantile Deviations</text>
<g fill="none"><path d="M823.90 763.32H1314.70" stroke="#ebebeb" stroke-width="1.42"/><path d="M823.90 695.19H1314.70" stroke="#ebebeb" stroke-width="1.42"/><path d="M823.90 627.07H1314.70" stroke="#ebebeb" stroke-width="1.42"/><path d="M863.34 605.55V815.43" stroke="#ebebeb" stroke-width="1.42"/><path d="M1000.65 605.55V815.43" stroke="#ebebeb" stroke-width="1.42"/><path d="M1137.95 605.55V815.43" stroke="#ebebeb" stroke-width="1.42"/><path d="M1275.26 605.55V815.43" stroke="#ebebeb" stroke-width="1.42"/><path d="M823.90 797.38H1314.70" stroke="#e5e5e5" stroke-width="2.84"/><path d="M823.90 729.26H1314.70" stroke="#e5e5e5" stroke-width="2.84"/><path d="M823.90 661.13H1314.70" stroke="#e5e5e5" stroke-width="2.84"/><path d="M932.00 605.55V815.43" stroke="#e5e5e5" stroke-width="2.84"/><path d="M1069.30 605.55V815.43" stroke="#e5e5e5" stroke-width="2.84"/><path d="M1206.60 605.55V815.43" stroke="#e5e5e5" stroke-width="2.84"/></g>
<polygon points="846.18,719.17 863.34,721.63 880.51,723.53 897.67,725.44 914.83,726.80 932.00,727.62 966.32,727.49 1000.65,725.44 1034.97,722.72 1069.30,719.17 1103.63,714.95 1137.95,709.91 1172.28,704.73 1206.60,698.19 1223.77,693.01 1240.93,686.61 1258.09,677.48 1275.26,665.90 1292.42,654.73 1292.42,738.79 1275.26,737.98 1258.09,736.89 1240.93,735.93 1223.77,735.12 1206.60,734.43 1172.28,733.62 1137.95,733.62 1103.63,734.43 1069.30,736.07 1034.97,740.16 1000.65,745.33 966.32,751.74 932.00,760.32 914.83,767.13 897.67,774.49 880.51,781.85 863.34,790.02 846.18,799.43" fill="#999999" fill-opacity="0.2"/>
<g fill="#1b6ca8" fill-opacity="0.8"><circle cx="846.21" cy="800.69" r="5.69"/><circle cx="876.70" cy="805.89" r="5.69"/><circle cx="892.27" cy="745.47" r="5.69"/><circle cx="903.13" cy="747.66" r="5.69"/><circle cx="911.61" cy="739.80" r="5.69"/><circle cx="918.64" cy="741.01" r="5.69"/><circle cx="924.67" cy="739.46" r="5.69"/><circle cx="929.98" cy="739.20" r="5.69"/><circle cx="934.75" cy="738.76" r="5.69"/><circle cx="939.09" cy="736.88" r="5.69"/><circle cx="943.08" cy="736.46" r="5.69"/><circle cx="946.78" cy="735.27" r="5.69"/><circle cx="950.23" cy="733.01" r="5.69"/><circle cx="953.48" cy="732.89" r="5.69"/><circle cx="956.56" cy="733.60" r="5.69"/><circle cx="959.47" cy="731.41" r="5.69"/><circle cx="962.25" cy="730.87" r="5.69"/><circle cx="964.91" cy="731.04" r="5.69"/><circle cx="967.46" cy="731.48" r="5.69"/><circle cx="969.90" cy="731.75" r="5.69"/><circle cx="972.26" cy="731.88" r="5.69"/><circle cx="974.54" cy="731.08" r="5.69"/><circle cx="976.75" cy="729.11" r="5.69"/><circle cx="978.89" cy="728.79" r="5.69"/><circle cx="980.97" cy="727.06" r="5.69"/><circle cx="982.98" cy="727.36" r="5.69"/><circle cx="984.95" cy="727.76" r="5.69"/><circle cx="986.87" cy="727.98" r="5.69"/><circle cx="988.74" cy="728.21" r="5.69"/><circle cx="990.57" cy="728.01" r="5.69"/><circle cx="992.36" cy="726.91" r="5.69"/><circle cx="994.11" cy="727.26" r="5.69"/><circle cx="995.83" cy="727.31" r="5.69"/><circle cx="997.51" cy="727.81" r="5.69"/><circle cx="999.16" cy="728.09" r="5.69"/><circle cx="1000.79" cy="727.88" r="5.69"/><circle cx="1002.38" cy="728.32" r="5.69"/><circle cx="1003.95" cy="728.56" r="5.69"/><circle cx="1005.50" cy="728.50" r="5.69"/><circle cx="1007.02" cy="728.48" r="5.69"/><circle cx="1008.52" cy="728.80" r="5.69"/><circle cx="1010.00" cy="728.02" r="5.69"/><circle cx="1011.46" cy="728.34" r="5.69"/><circle cx="1012.91" cy="728.76" r="5.69"/><circle cx="1014.33" cy="729.12" r="5.69"/><circle cx="1015.74" cy="729.44" r="5.69"/><circle cx="1017.13" cy="729.70" r="5.69"/><circle cx="1018.50" cy="730.08" r="5.69"/><circle cx="1019.86" cy="729.95" r="5.69"/><circle cx="1021.21" cy="730.28" r="5.69"/><circle cx="1022.54" cy="730.38" r="5.69"/><circle cx="1023.86" cy="730.66" r="5.69"/><circle cx="1025.17" cy="730.67" r="5.69"/><circle cx="1026.47" cy="730.88" r="5.69"/><circle cx="1027.75" cy="730.64" r="5.69"/><circle cx="1029.03" cy="730.70" r="5.69"/><circle cx="1030.29" cy="730.94" r="5.69"/><circle cx="1031.55" cy="730.91" r="5.69"/><circle cx="1032.79" cy="730.18" r="5.69"/><circle cx="1034.03" cy="730.28" r="5.69"/><circle cx="1035.26" cy="729.88" r="5.69"/><circle cx="1036.48" cy="730.21" r="5.69"/><circle cx="1037.70" cy="730.19" r="5.69"/><circle cx="1038.90" cy="730.45" r="5.69"/><circle cx="1040.10" cy="730.28" r="5.69"/><circle cx="1041.30" cy="730.35" r="5.69"/><circle cx="1042.48" cy="730.21" r="5.69"/><circle cx="1043.66" cy="730.09" r="5.69"/><circle cx="1044.84" cy="730.41" r="5.69"/><circle cx="1046.01" cy="730.19" r="5.69"/><circle cx="1047.18" cy="730.10" r="5.69"/><circle cx="1048.34" cy="730.32" r="5.69"/><circle cx="1049.50" cy="730.33" r="5.69"/><circle cx="1050.65" cy="729.54" r="5.69"/><circle cx="1051.80" cy="729.64" r="5.69"/><circle cx="1052.94" cy="729.71" r="5.69"/><circle cx="1054.08" cy="729.18" r="5.69"/><circle cx="1055.22" cy="729.44" r="5.69"/><circle cx="1056.36" cy="729.51" r="5.69"/><circle cx="1057.49" cy="729.50" r="5.69"/><circle cx="1058.63" cy="729.55" r="5.69"/><circle cx="1059.75" cy="729.14" r="5.69"/><circle cx="1060.88" cy="729.29" r="5.69"/><circle cx="1062.01" cy="729.12" r="5.69"/><circle cx="1063.13" cy="729.36" r="5.69"/><circle cx="1064.26" cy="729.11" r="5.69"/><circle cx="1065.38" cy="729.13" r="5.69"/><circle cx="1066.50" cy="729.14" r="5.69"/><circle cx="1067.62" cy="728.41" r="5.69"/><circle cx="1068.74" cy="728.51" r="5.69"/><circle cx="1069.86" cy="728.39" r="5.69"/><circle cx="1070.98" cy="728.62" r="5.69"/><circle cx="1072.10" cy="728.54" r="5.69"/><circle cx="1073.22" cy="728.35" r="5.69"/><circle cx="1074.34" cy="728.57" r="5.69"/><circle cx="1075.47" cy="728.03" r="5.69"/><circle cx="1076.59" cy="728.27" r="5.69"/><circle cx="1077.72" cy="728.47" r="5.69"/><circle cx="1078.85" cy="728.64" r="5.69"/><circle cx="1079.97" cy="728.27" r="5.69"/><circle cx="1081.11" cy="728.15" r="5.69"/><circle cx="1082.24" cy="728.21" r="5.69"/><circle cx="1083.38" cy="728.08" r="5.69"/><circle cx="1084.52" cy="728.35" r="5.69"/><circle cx="1085.66" cy="727.33" r="5.69"/><circle cx="1086.80" cy="727.64" r="5.69"/><circle cx="1087.95" cy="727.53" r="5.69"/><circle cx="1089.10" cy="727.40" r="5.69"/><circle cx="1090.26" cy="727.55" r="5.69"/><circle cx="1091.42" cy="727.75" r="5.69"/><circle cx="1092.59" cy="728.04" r="5.69"/><circle cx="1093.76" cy="727.61" r="5.69"/><circle cx="1094.94" cy="727.72" r="5.69"/><circle cx="1096.12" cy="727.53" r="5.69"/><circle cx="1097.30" cy="726.45" r="5.69"/><circle cx="1098.50" cy="726.49" r="5.69"/><circle cx="1099.70" cy="726.84" r="5.69"/><circle cx="1100.90" cy="726.71" r="5.69"/><circle cx="1102.12" cy="727.00" r="5.69"/><circle cx="1103.34" cy="727.28" r="5.69"/><circle cx="1104.57" cy="726.99" r="5.69"/><circle cx="1105.81" cy="726.94" r="5.69"/><circle cx="1107.05" cy="727.18" r="5.69"/><circle cx="1108.31" cy="727.37" r="5.69"/><circle cx="1109.57" cy="727.54" r="5.69"/><circle cx="1110.85" cy="727.49" r="5.69"/><circle cx="1112.13" cy="727.65" r="5.69"/><circle cx="1113.43" cy="728.03" r="5.69"/><circle cx="1114.74" cy="728.14" r="5.69"/><circle cx="1116.06" cy="728.10" r="5.69"/><circle cx="1117.39" cy="728.06" r="5.69"/><circle cx="1118.74" cy="728.43" r="5.69"/><circle cx="1120.10" cy="728.50" r="5.69"/><circle cx="1121.47" cy="728.81" r="5.69"/><circle cx="1122.86" cy="729.08" r="5.69"/><circle cx="1124.27" cy="729.38" r="5.69"/><circle cx="1125.69" cy="728.31" r="5.69"/><circle cx="1127.14" cy="728.27" r="5.69"/><circle cx="1128.60" cy="727.92" r="5.69"/><circle cx="1130.08" cy="728.19" r="5.69"/><circle cx="1131.58" cy="727.68" r="5.69"/><circle cx="1133.10" cy="728.11" r="5.69"/><circle cx="1134.65" cy="728.25" r="5.69"/><circle cx="1136.22" cy="727.93" r="5.69"/><circle cx="1137.81" cy="727.53" r="5.69"/><circle cx="1139.44" cy="727.25" r="5.69"/><circle cx="1141.09" cy="727.53" r="5.69"/><circle cx="1142.77" cy="727.90" r="5.69"/><circle cx="1144.49" cy="728.15" r="5.69"/><circle cx="1146.24" cy="728.09" r="5.69"/><circle cx="1148.03" cy="728.23" r="5.69"/><circle cx="1149.86" cy="727.76" r="5.69"/><circle cx="1151.73" cy="728.27" r="5.69"/><circle cx="1153.65" cy="727.80" r="5.69"/><circle cx="1155.62" cy="728.27" r="5.69"/><circle cx="1157.63" cy="728.78" r="5.69"/><circle cx="1159.71" cy="728.30" r="5.69"/><circle cx="1161.85" cy="728.90" r="5.69"/><circle cx="1164.06" cy="729.42" r="5.69"/><circle cx="1166.34" cy="729.97" r="5.69"/><circle cx="1168.70" cy="729.83" r="5.69"/><circle cx="1171.14" cy="728.61" r="5.69"/><circle cx="1173.69" cy="728.78" r="5.69"/><circle cx="1176.35" cy="728.08" r="5.69"/><circle cx="1179.13" cy="728.56" r="5.69"/><circle cx="1182.04" cy="729.41" r="5.69"/><circle cx="1185.12" cy="728.22" r="5.69"/><circle cx="1188.37" cy="728.46" r="5.69"/><circle cx="1191.82" cy="727.49" r="5.69"/><circle cx="1195.52" cy="726.99" r="5.69"/><circle cx="1199.51" cy="725.33" r="5.69"/><circle cx="1203.85" cy="725.80" r="5.69"/><circle cx="1208.62" cy="726.35" r="5.69"/><circle cx="1213.93" cy="723.69" r="5.69"/><circle cx="1219.96" cy="724.22" r="5.69"/><circle cx="1226.99" cy="723.59" r="5.69"/><circle cx="1235.47" cy="721.57" r="5.69"/><circle cx="1246.33" cy="718.69" r="5.69"/><circle cx="1261.90" cy="701.19" r="5.69"/><circle cx="1292.39" cy="615.09" r="5.69"/></g>
<polyline points="846.21,729.26 1292.39,729.26" fill="none" stroke="#3aaf85" stroke-width="4.55" stroke-linejoin="round" stroke-linecap="butt"/>
<path d="M823.90 605.55V815.43" stroke="#cccccc" stroke-width="2.84" stroke-linecap="square" fill="none"/>
<path d="M823.90 815.43H1314.70" stroke="#cccccc" stroke-width="2.84" stroke-linecap="square" fill="none"/>
<text x="794.70" y="806.93" font-size="26.9" fill="#7f7f7f" text-anchor="end">-50</text>
<text x="794.70" y="738.81" font-size="26.9" fill="#7f7f7f" text-anchor="end">0</text>
<text x="794.70" y="670.68" font-size="26.9" fill="#7f7f7f" text-anchor="end">50</text>
<text x="932.00" y="862.80" font-size="26.9" fill="#7f7f7f" text-anchor="middle">-40</text>
<text x="1069.30" y="862.80" font-size="26.9" fill="#7f7f7f" text-anchor="middle">0</text>
<text x="1206.60" y="862.80" font-size="26.9" fill="#7f7f7f" text-anchor="middle">40</text>
<text x="815.78" y="917.55" font-size="29.05" fill="#4d4d4d" textLength="506.07" lengthAdjust="spacing">Standard Normal Distribution Quantiles</text>
<text x="687.38" y="515.70" font-size="32" fill="#000" textLength="322.98" lengthAdjust="spacing">Normality of Residuals</text>
<text x="687.62" y="584.00" font-size="29.05" fill="#000" textLength="382.47" lengthAdjust="spacing">Dots should fall along the line</text>
</svg>
</body></html>
